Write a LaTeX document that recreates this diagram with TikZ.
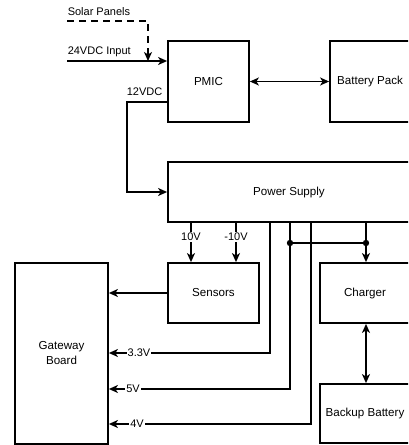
\documentclass[tikz,border=0pt]{standalone}
\usepackage{fontspec}
\setmainfont{Liberation Sans}
\usetikzlibrary{arrows.meta}
\begin{document}
\begin{tikzpicture}[x=1pt,y=-1pt,line width=1.5pt,
	box/.style={draw,line width=1.8pt,inner sep=0pt,align=center,font=\fontsize{11.6}{15}\selectfont},
	lbl/.style={inner sep=1pt,fill=white,font=\fontsize{11}{12}\selectfont},
	>={Stealth[length=9pt,width=8pt,inset=2.5pt]}]
	\clip (0,0) rectangle (408,445);
	% blocks
	\node[box,minimum width=81pt,minimum height=81pt] (pmic) at (208.5,81.5) {PMIC};
	\node[box,minimum width=80pt,minimum height=81pt] (pack) at (370,81.5) {Battery Pack};
	\node[box,minimum width=242pt,minimum height=60pt] (supply) at (289,192) {Power Supply};
	\node[box,minimum width=91pt,minimum height=60pt] (sens) at (213.5,293) {Sensors};
	\node[box,minimum width=90pt,minimum height=60pt] (chg) at (365,293) {Charger};
	\node[box,minimum width=90pt,minimum height=59pt] (bkp) at (365,413.5) {Backup Battery};
	\node[box,minimum width=93pt,minimum height=181pt] (gw) at (61.5,353.5) {Gateway\\Board};
	% inputs
	\coordinate (solar) at (67,21);
	\coordinate (in24) at (67,61);
	\coordinate (join) at (148,61);
	\coordinate (v12) at (127,102);
	\draw[->,dash pattern=on 7pt off 5pt] (solar) -| (join);
	\draw[->] (in24) -- (pmic.west |- in24);
	\draw[<->] (pmic) -- (pack);
	\draw[->] (pmic.west |- v12) -| (127,192) -- (supply.west);
	\node[lbl,anchor=west] (tsolar) at (66,12) {Solar Panels};
	\node[lbl,anchor=west] (tin24) at (66,52) {24VDC Input};
	\node[lbl] (t12) at (144.5,92) {12VDC};
	% outputs
	\coordinate (p10) at (191,222);
	\coordinate (m10) at (236,222);
	\coordinate (t33) at (270,222);
	\coordinate (t5) at (290,222);
	\coordinate (t4) at (311,222);
	\coordinate (tc) at (366,222);
	\coordinate (d1) at (290,243);
	\coordinate (d2) at (366,243);
	\draw[->] (p10) -- (p10 |- sens.north);
	\draw[->] (m10) -- (m10 |- sens.north);
	\draw[->] (sens) -- (gw.east |- sens);
	\draw[->] (t33) |- (gw.east |- 0,353);
	\draw[->] (t5) |- (gw.east |- 0,389);
	\draw[->] (t4) |- (gw.east |- 0,424);
	\draw[->] (tc) -- (chg.north -| tc);
	\draw (d1) -- (d2);
	\fill (d1) circle (3.2pt) (d2) circle (3.2pt);
	\draw[<->] (chg.south -| tc) -- (bkp.north -| tc);
	\node[lbl] (l10) at (191,237) {10V};
	\node[lbl] (lm10) at (236,237) {-10V};
	\node[lbl] (l33) at (139,353) {3.3V};
	\node[lbl] (l5) at (133,389) {5V};
	\node[lbl] (l4) at (137,424) {4V};
\end{tikzpicture}
\end{document}
